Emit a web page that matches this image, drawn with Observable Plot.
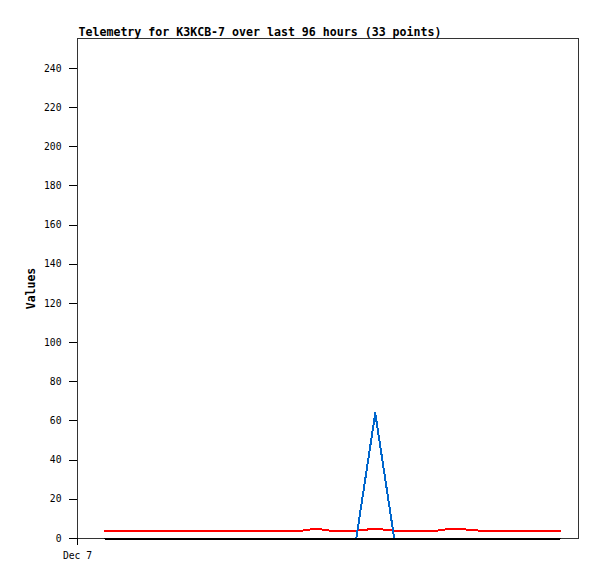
<!DOCTYPE html>
<html>
<head>
<meta charset="utf-8">
<script src="https://cdn.jsdelivr.net/npm/d3@7"></script>
<script src="https://cdn.jsdelivr.net/npm/@observablehq/plot@0.6"></script>
<style>
  html, body { margin: 0; padding: 0; background: #fff; }
  svg { display: block; }
</style>
</head>
<body>
<div id="chart"></div>
<script>
// Hours since Dec 7 00:00 of the first sample
const startHour = 5.7;
// Sample offsets (hours after the first sample), 33 points over 96 hours
const hours = [0, 3, 6, 9, 12, 15, 18, 21, 24, 27, 30, 33, 36, 39, 41.5, 44.5, 47.5, 50, 53, 57, 61, 64, 67, 70, 73, 76, 79, 82, 85, 88, 91, 94, 96];
// Series values
const redValues   = [4, 4, 4, 4, 4, 4, 4, 4, 4, 4, 4, 4, 4, 4, 4, 5, 4, 4, 4, 5, 4, 4, 4, 4, 5, 4.6, 4, 4, 4, 4, 4, 4, 4];
const blueValues  = [0, 0, 0, 0, 0, 0, 0, 0, 0, 0, 0, 0, 0, 0, 0, 0, 0, 0, 0, 64, 0, 0, 0, 0, 0, 0, 0, 0, 0, 0, 0, 0, 0];
const blackValues = [0, 0, 0, 0, 0, 0, 0, 0, 0, 0, 0, 0, 0, 0, 0, 0, 0, 0, 0, 0, 0, 0, 0, 0, 0, 0, 0, 0, 0, 0, 0, 0, 0];
// Axes
const yTicks = [0, 20, 40, 60, 80, 100, 120, 140, 160, 180, 200, 220, 240];
const xTicks = [0];
const xTickLabels = ["Dec 7"];
const xDomain = [0, 105.5];
const yDomain = [0, 255.3];
const title = "Telemetry for K3KCB-7 over last 96 hours (33 points)";
const yLabel = "Values";

const toRows = (vals) => hours.map((h, i) => ({x: startHour + h, y: vals[i]}));
const red = toRows(redValues);
const blue = toRows(blueValues);
const black = toRows(blackValues);

const chart = Plot.plot({
  width: 597,
  height: 579,
  marginLeft: 77,
  marginRight: 19,
  marginTop: 38,
  marginBottom: 41,
  style: {fontFamily: "'DejaVu Sans Mono', monospace", fontSize: "9.7px", color: "#000", background: "#fff"},
  x: {domain: xDomain, label: null},
  y: {domain: yDomain, label: null},
  marks: [
    Plot.frame({stroke: "#333", strokeWidth: 1, shapeRendering: "crispEdges"}),
    Plot.axisY({ticks: yTicks, tickSize: 8, tickPadding: 8, label: null, fontSize: 9.7, shapeRendering: "crispEdges"}),
    Plot.axisX({ticks: xTicks, tickFormat: (d, i) => xTickLabels[i], tickSize: 7, tickPadding: 7, label: null, fontSize: 9.7, shapeRendering: "crispEdges"}),
    Plot.line(red, {x: "x", y: "y", stroke: "#ff0000", strokeWidth: 2, shapeRendering: "crispEdges"}),
    Plot.line(blue, {x: "x", y: "y", stroke: "#0066cc", strokeWidth: 2, shapeRendering: "crispEdges"}),
    Plot.line(black, {x: "x", y: "y", stroke: "#000000", strokeWidth: 2, shapeRendering: "crispEdges"}),
    Plot.text([title], {frameAnchor: "top-left", dx: 1, dy: -3, textAnchor: "start", lineAnchor: "bottom", fontSize: 11.6, fontWeight: "bold", fill: "#000"}),
    Plot.text([yLabel], {frameAnchor: "left", dx: -46, rotate: -90, textAnchor: "middle", fontSize: 11.5, fontWeight: "bold", fill: "#000"})
  ]
});
document.getElementById("chart").append(chart);
</script>
</body>
</html>
